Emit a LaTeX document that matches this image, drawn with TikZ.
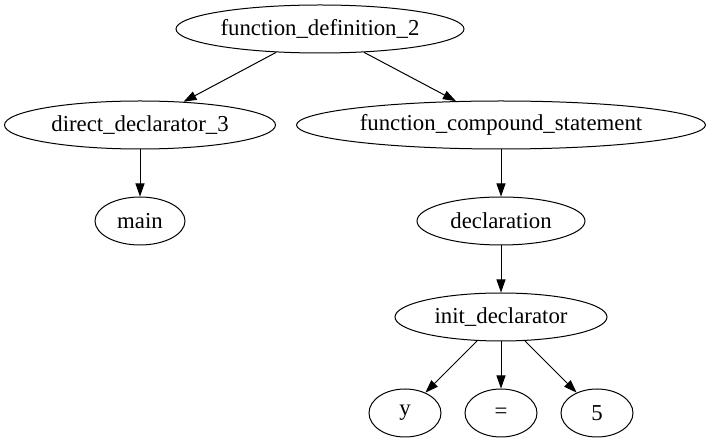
\documentclass[tikz,border=0pt]{standalone}
\usepackage{fontspec}
\setmainfont{Liberation Serif}
\usetikzlibrary{arrows.meta,shapes.geometric}

\tikzset{
  treenode/.style = {shape=ellipse, draw, line width=1pt,
                     inner sep=0pt, minimum height=48pt,
                     font=\fontsize{22.8}{26}\selectfont},
  leaf/.style     = {treenode, minimum width=72pt},
  edge/.style     = {draw, line width=1pt, -{Triangle[length=13pt,width=9pt]}}
}

\begin{document}
\begin{tikzpicture}[x=1pt,y=-1pt]
  \useasboundingbox (0,0) rectangle (710,443);

  \node [treenode, minimum width=288pt] (fdef)  at (320,29)  {function\_definition\_2};
  \node [treenode, minimum width=271pt] (ddecl) at (140,125) {direct\_declarator\_3};
  \node [treenode, minimum width=409pt] (fcomp) at (501,125) {function\_compound\_statement};
  \node [treenode, minimum width=90pt]  (main)  at (140,221) {main};
  \node [treenode, minimum width=168pt] (decl)  at (501,221) {declaration};
  \node [treenode, minimum width=212pt] (init)  at (501,317) {init\_declarator};
  \node [leaf] (y)     at (405,413) {y};
  \node [leaf] (eq)    at (501,413) {=};
  \node [leaf] (five)  at (597,413) {5};

  \foreach \from/\to in {fdef/ddecl, fdef/fcomp, ddecl/main, fcomp/decl,
                         decl/init, init/y, init/eq, init/five}
    \draw [edge] (\from) -- (\to);
\end{tikzpicture}
\end{document}
